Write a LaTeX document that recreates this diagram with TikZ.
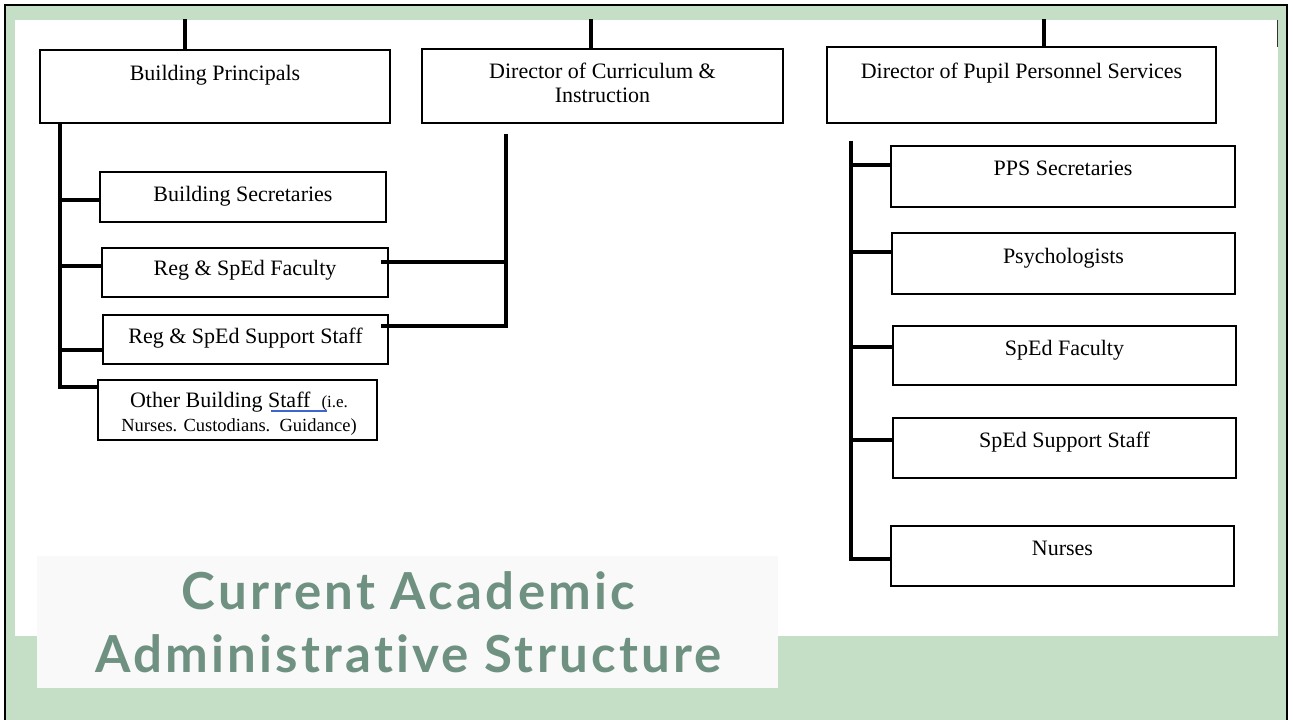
\documentclass[tikz,border=0pt]{standalone}
\usepackage{fontspec}
\setmainfont{Liberation Serif}
\newfontfamily\titlefont{Lato}[LetterSpace=6.3, Ligatures=NoCommon]
\definecolor{slidegreen}{HTML}{C5DFC7}
\definecolor{titlefill}{HTML}{F9F9F9}
\definecolor{titleink}{HTML}{6F9181}
\definecolor{squiggle}{HTML}{3F63D0}

\begin{document}
\begin{tikzpicture}[x=1pt, y=-1pt,
  box/.style={draw, line width=1.3pt, inner sep=0pt},
  lbl/.style={anchor=base, align=center, inner sep=0pt, font=\fontsize{22}{24}\selectfont},
  link/.style={line width=3.6pt},
  frame/.style={line width=2pt},
  headline/.style={anchor=base, align=center, inner sep=0pt, text=titleink,
                   font=\titlefont\bfseries\fontsize{51}{63}\selectfont},
]
\useasboundingbox (0,0) rectangle (1293,720);
% slide background
\fill[slidegreen] (5,5) rectangle (1287,720);
\draw[frame] (5,720) -- (5,5) -- (1287,5) -- (1287,720);
\fill[white] (15,20) rectangle (1278,636);
\draw[line width=1pt, black!80] (1277.5,20) -- (1277.5,47);

% top row
\node[box, minimum width=350, minimum height=73] (bp)  at (215,86.5) {};
\node[box, minimum width=361, minimum height=74] (dci) at (602.5,86) {};
\node[box, minimum width=389, minimum height=76] (pps) at (1021.5,85) {};
\node[lbl] (bp-t)  at (215,80)    {Building Principals};
\node[lbl] (dci-t) at (602.5,102) {Director of Curriculum \&\\Instruction};
\node[lbl] (pps-t) at (1021.5,78) {Director of Pupil Personnel Services};

% building staff
\node[box, minimum width=286, minimum height=50] (bs)  at (243,197)     {};
\node[box, minimum width=286, minimum height=49] (rsf) at (245,272.5)   {};
\node[box, minimum width=285, minimum height=49] (rss) at (245.5,339.5) {};
\node[box, minimum width=279, minimum height=60] (obs) at (237.5,410)   {};
\node[lbl] (bs-t)  at (243,201)   {Building Secretaries};
\node[lbl] (rsf-t) at (245,275)   {Reg \& SpEd Faculty};
\node[lbl] (rss-t) at (245.5,343) {Reg \& SpEd Support Staff};
\node[lbl] (obs-t) at (239,431)
  {Other Building Staff\ \ {\fontsize{17}{22}\selectfont(i.e.}\\
   {\fontsize{18.5}{22}\selectfont Nurses. Custodians.\ \ Guidance)}};
% spell-check underline under "Staff"
\draw[squiggle, line width=1.4pt] (271,411) -- (327,411);

% pupil personnel staff
\node[box, minimum width=344, minimum height=61] (ppssec) at (1063,176.5)   {};
\node[box, minimum width=343, minimum height=61] (psy)    at (1063.5,263.5) {};
\node[box, minimum width=343, minimum height=59] (sfac)   at (1064.5,355.5) {};
\node[box, minimum width=343, minimum height=60] (ssup)   at (1064.5,448)   {};
\node[box, minimum width=343, minimum height=60] (nur)    at (1062.5,556)   {};
\node[lbl] (ppssec-t) at (1063,175)   {PPS Secretaries};
\node[lbl] (psy-t)    at (1063.5,263) {Psychologists};
\node[lbl] (sfac-t)   at (1064.5,355) {SpEd Faculty};
\node[lbl] (ssup-t)   at (1064.5,447) {SpEd Support Staff};
\node[lbl] (nur-t)    at (1062.5,555) {Nurses};

% stubs up to the next level
\draw[link] ([xshift=-30]bp.north)    -- ++(0,-30);
\draw[link] ([xshift=-11.5]dci.north) -- ++(0,-29);
\draw[link] ([xshift=22.5]pps.north)  -- ++(0,-27);

% principals -> building staff
\coordinate (bpT) at ([xshift=-155]bp.south);
\draw[link] (bpT) |- ([yshift=23]obs.west);
\draw[link] ([yshift=-3]bs.west)    -- ++(-40,0);
\draw[link] ([yshift=6.5]rsf.west)  -- ++(-42,0);
\draw[link] ([yshift=-10.5]rss.west) -- ++(-43,0);

% curriculum -> faculty and support staff
\coordinate (dciT) at ([xshift=-96.5,yshift=-10]dci.south);
\draw[link] (dciT) |- ([xshift=-8,yshift=13.5]rss.east);
\draw[link] ([xshift=-8,yshift=10.5]rsf.east) -- ++(126,0);

% pupil personnel -> staff
\coordinate (ppsT) at ([xshift=-170.5,yshift=-17]pps.south);
\draw[link] (ppsT) |- ([yshift=-3]nur.west);
\draw[link] ([yshift=11.5]ppssec.west) -- ++(-40,0);
\draw[link] ([yshift=11.5]psy.west)    -- ++(-41,0);
\draw[link] ([yshift=8.5]sfac.west)    -- ++(-42,0);
\draw[link] ([yshift=8]ssup.west)      -- ++(-42,0);

% title panel
\fill[titlefill] (37,556) rectangle (778,688);
\node[headline] (title) at (408.5,672) {Current Academic\\Administrative Structure};
\end{tikzpicture}
\end{document}
